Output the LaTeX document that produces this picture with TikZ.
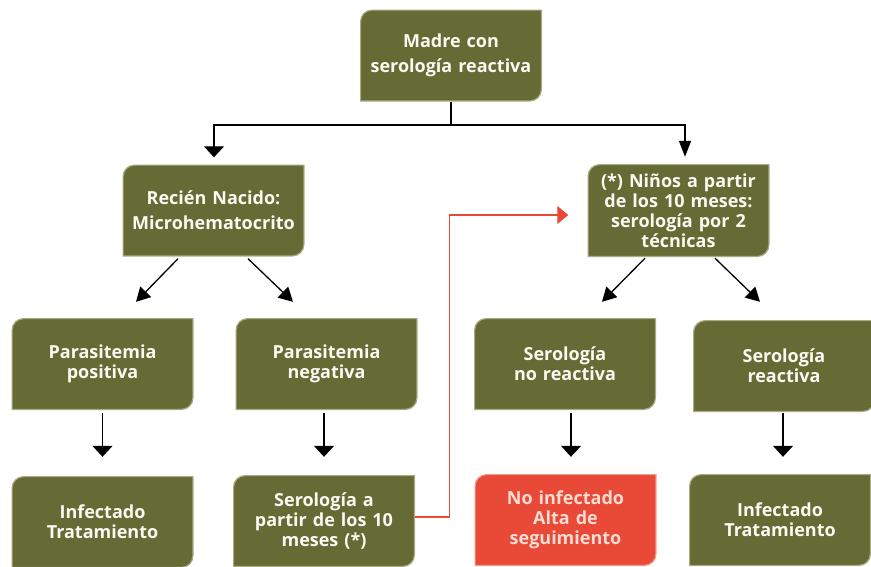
\documentclass[tikz,border=0pt]{standalone}
\usepackage{fontspec}
\setmainfont{Open Sans}
\usetikzlibrary{arrows.meta,calc}
\definecolor{boxgreen}{HTML}{666B35}
\definecolor{boxgreenedge}{HTML}{A9AB84}
\definecolor{boxred}{HTML}{E84A37}
\definecolor{boxrededge}{HTML}{F29A8A}
\definecolor{boxtext}{HTML}{FBFAF2}
\definecolor{redtext}{HTML}{FBDCD2}
\definecolor{linkred}{HTML}{E84A37}
\newcommand\flowshape[2]{%
  \filldraw[fill=#1, draw=#2, line width=1.2pt]
    let \p1=(path picture bounding box.south west),
        \p2=(path picture bounding box.north east) in
    (\x1+0.6pt,\y1+0.6pt) -- (\x2-12pt,\y1+0.6pt)
    arc[start angle=-90,end angle=0,radius=11.4pt]
    -- (\x2-0.6pt,\y2-0.6pt) -- (\x1+12pt,\y2-0.6pt)
    arc[start angle=90,end angle=180,radius=11.4pt] -- cycle;}
\tikzset{
  basebox/.style={fill=white, minimum width=182pt, minimum height=92pt,
    inner sep=0pt, text width=176pt, align=center,
    font=\bfseries\fontsize{18}{20}\selectfont},
  gbox/.style={basebox, text=boxtext, path picture={\flowshape{boxgreen}{boxgreenedge}}},
  rbox/.style={basebox, text=redtext, path picture={\flowshape{boxred}{boxrededge}}},
  wide/.style={font=\bfseries\fontsize{18}{25}\selectfont},
  arrflat/.style={line width=1.3pt, -{Triangle[width=20pt,length=11pt]}},
  arrtall/.style={line width=1.3pt, -{Triangle[width=12pt,length=16pt]}},
  arrdiag/.style={line width=1.3pt, -{Triangle[width=15pt,length=14pt]}},
  redlink/.style={draw=linkred, line width=1.2pt, -{Triangle[width=18pt,length=11pt]}},
}
\begin{document}
\begin{tikzpicture}[x=1pt,y=-1pt]
\path[use as bounding box] (0,0) rectangle (871,566);
\clip (0,0) rectangle (871,566);

\node[gbox,wide] (madre) at (451,55.5) {Madre con\\serología reactiva};
\node[gbox,wide] (recien) at (213.5,210.5) {Recién Nacido:\\Microhematocrito};
\node[gbox,minimum height=93pt] (ninos) at (678.5,210.5) {(*) Niños a partir\\de los 10 meses:\\serología por 2\\técnicas};

\node[gbox] (pos) at (102.5,364) {Parasitemia\\positiva};
\node[gbox] (neg) at (326.5,364) {Parasitemia\\negativa};
\node[gbox] (noreact) at (565,364) {Serología\\no reactiva};
\node[gbox] (react) at (784,366) {Serología\\reactiva};

\node[gbox] (inf1) at (102.5,522) {Infectado\\Tratamiento};
\node[gbox] (serol) at (324,521) {Serología a\\partir de los 10\\meses (*)};
\node[rbox] (noinf) at (565.5,520) {No infectado\\Alta de\\seguimiento};
\node[gbox] (inf2) at (780,520) {Infectado\\Tratamiento};

% top branch
\coordinate (j) at (451,125);
\draw[line width=1.3pt] (madre.south) -- (j);
\draw[arrflat, shorten >=7pt] (j) -| ([xshift=0.5pt]recien.north);
\draw[arrtall, shorten >=7pt] (j) -| ([xshift=6.5pt]ninos.north);

% diagonals
\draw[arrdiag] ([xshift=-35.5pt,yshift=-2pt]recien.south) -- ([xshift=33.5pt,yshift=16pt]pos.north);
\draw[arrdiag] ([xshift=34.5pt,yshift=-2pt]recien.south) -- ([xshift=-33.5pt,yshift=16pt]neg.north);
\draw[arrdiag] ([xshift=-33.5pt,yshift=-1pt]ninos.south) -- ([xshift=37pt,yshift=16pt]noreact.north);
\draw[arrdiag] ([xshift=36.5pt,yshift=-1pt]ninos.south) -- ([xshift=-24pt,yshift=18pt]react.north);

% verticals
\draw[arrflat, shorten <=3pt, shorten >=19pt] (pos.south) -- (inf1.north);
\draw[arrflat, shorten <=3pt, shorten >=18pt] (neg.south -| serol.north) -- (serol.north);
\draw[arrflat, shorten <=3pt, shorten >=17pt] ([xshift=6pt]noreact.south) -- ([xshift=5.5pt]noinf.north);
\draw[arrflat, shorten <=1pt, shorten >=17pt] ([xshift=-1pt]react.south) -- ([xshift=3pt]inf2.north);

% red link
\draw[redlink, shorten >=19pt] ([yshift=4pt]serol.east) -- ++(34,0) |- ([yshift=-4.5pt]ninos.west);
\end{tikzpicture}
\end{document}
